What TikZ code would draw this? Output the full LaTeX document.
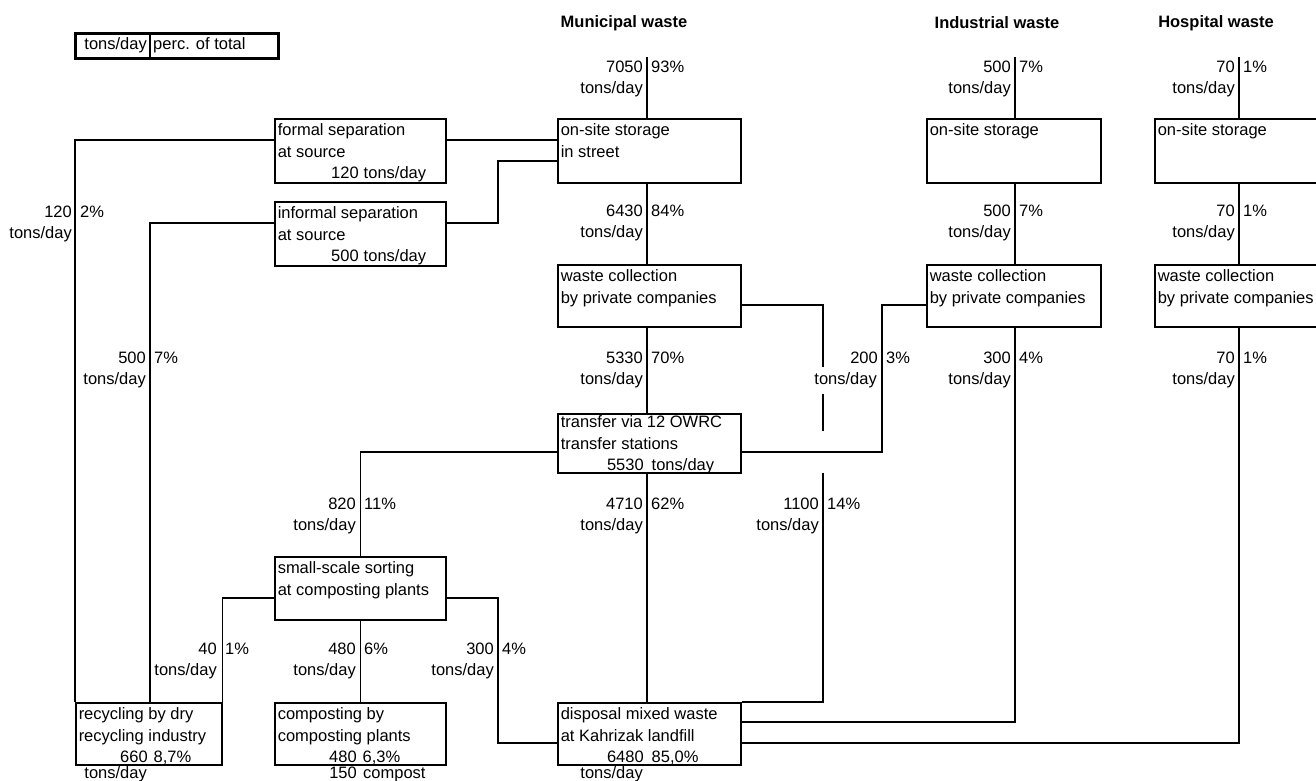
\documentclass[tikz,border=0pt]{standalone}
\usepackage{fontspec}
\setmainfont{Liberation Sans}
\usetikzlibrary{calc}

% text block of a process box: lines start at the top, box height fixed
\newcommand\boxtext[4][2pt]{\parbox[c][#3pt][t]{\dimexpr#2pt-6pt\relax}{\raggedright\vspace*{#1}\strut#4}}
% amount line inside a box: right-aligned number, then its unit
\newcommand\numline[4]{\makebox[#1pt][r]{#2}\hspace{#3pt}#4}
% flow label beside a vertical connector: amount | percentage / tons/day
\newcommand\flowlab[6][]{%
  \node[lab,anchor=mid east] (#2-n) at ({#3-4},{#4+2}) {#5};
  \node[lab,anchor=mid west] (#2-p) at ({#3+4},{#4+2}) {#6};
  \node[lab,anchor=mid east,#1] (#2-t) at ({#3-4},{#4+23}) {tons/day};}

\begin{document}
\begin{tikzpicture}[x=1pt,y=-1pt,
  every node/.style={font=\fontsize{16.5}{21.5}\selectfont},
  lab/.style={inner sep=0pt},
  head/.style={inner sep=0pt,font=\fontsize{16.5}{21.5}\selectfont\bfseries},
  box/.style={draw,line width=1.5pt,inner xsep=3pt,inner ysep=0pt,anchor=north west},
  flow/.style={line width=1.5pt},
  mask/.style={fill=white,inner ysep=6pt,inner xsep=1pt}]
\useasboundingbox (0,0) rectangle (1316,780);

% ---- legend ----
\node[draw,line width=3pt,minimum width=203pt,minimum height=25pt,inner sep=0pt,anchor=north west] (legend) at (74,32) {};
\node[lab,anchor=mid east] (leg-u) at (147,47) {tons/day};
\node[lab,anchor=mid west] (leg-p) at (153,47) {perc. of total};
\coordinate (legdiv) at (150,32);
\draw[flow] (legdiv) -- (legdiv |- legend.south);

% ---- column headings ----
\node[head] (h-mun) at (624,23) {Municipal waste};
\node[head] (h-ind) at (997,23) {Industrial waste};
\node[head] (h-hos) at (1216,23) {Hospital waste};

% ---- process boxes ----
\node[box,minimum width=171pt,minimum height=64pt] (formal) at (274,118)
  {\boxtext{171}{64}{formal separation\\at source\\\numline{81}{120}{5}{tons/day}}};
\node[box,minimum width=171pt,minimum height=64pt] (informal) at (274,201)
  {\boxtext{171}{64}{informal separation\\at source\\\numline{81}{500}{5}{tons/day}}};
\node[box,minimum width=183pt,minimum height=64pt] (ons) at (557,118)
  {\boxtext{183}{64}{on-site storage\\in street}};
\node[box,minimum width=183pt,minimum height=62pt] (wc) at (557,264)
  {\boxtext{183}{62}{waste collection\\by private companies}};
\node[box,minimum width=183pt,minimum height=59pt] (tr) at (557,413)
  {\boxtext[-1pt]{183}{59}{transfer via 12 OWRC\\transfer stations\\\numline{83}{5530}{8}{tons/day}}};
\node[box,minimum width=171pt,minimum height=63pt] (small) at (274,556)
  {\boxtext{171}{63}{small-scale sorting\\at composting plants}};
\node[box,minimum width=146pt,minimum height=62pt] (recyc) at (75,702)
  {\boxtext{146}{62}{recycling by dry\\recycling industry\\\numline{69}{660}{6}{8,7\%}}};
\node[box,minimum width=171pt,minimum height=62pt] (comp) at (274,702)
  {\boxtext{171}{62}{composting by\\composting plants\\\numline{79}{480}{6}{6,3\%}}};
\node[box,minimum width=183pt,minimum height=62pt] (disp) at (557,702)
  {\boxtext{183}{62}{disposal mixed waste\\at Kahrizak landfill\\\numline{83}{6480}{8}{85,0\%}}};
\node[box,minimum width=174pt,minimum height=64pt] (ios) at (926,118)
  {\boxtext{174}{64}{on-site storage}};
\node[box,minimum width=174pt,minimum height=62pt] (iwc) at (926,264)
  {\boxtext{174}{62}{waste collection\\by private companies}};
\node[box,minimum width=180pt,minimum height=64pt] (hos) at (1154,118)
  {\boxtext{180}{64}{on-site storage}};
\node[box,minimum width=180pt,minimum height=62pt] (hwc) at (1154,264)
  {\boxtext{180}{62}{waste collection\\by private companies}};

% texts under the bottom boxes
\node[lab,anchor=mid east] (recyc-u) at (147,776) {tons/day};
\node[lab,anchor=mid east] (comp-n) at (357,776) {150};
\node[lab,anchor=mid west] (comp-u) at (363,776) {compost};
\node[lab,anchor=mid east] (disp-u) at (643,776) {tons/day};

% ---- connector columns and bends ----
\coordinate (munin) at (647,57);
\coordinate (indin) at (1015,57);
\coordinate (hosin) at (1239,57);
\coordinate (jog1) at (498,161);
\coordinate (jog2) at (498,743);
\coordinate (gtop) at (823,431);
\coordinate (gbot) at (823,473);
\coordinate (tjog) at (882,452);

% ---- municipal main flow ----
\draw[flow] (munin) -- (munin |- ons.north);
\draw[flow] (ons.south -| munin) -- (wc.north -| munin);
\draw[flow] (wc.south -| munin) -- (tr.north -| munin);
\draw[flow] (tr.south -| munin) -- (disp.north -| munin);

% ---- separation at source ----
\draw[flow] ([yshift=-22pt]formal.north west) -| (recyc.north west);
\draw[flow] ([yshift=-22pt]informal.north west) -| (recyc.north -| legdiv);
\draw[flow] ([yshift=-22pt]formal.north east) -- ([yshift=-22pt]ons.north west);
\draw[flow] ([yshift=-22pt]informal.north east) -| (jog1) -- ([yshift=-43pt]ons.north west);

% ---- collection side branch ----
\draw[flow] ([yshift=-41pt]wc.north east) -| (gtop);
\draw[flow] (gbot) |- (disp.north east);
\draw[flow] ([yshift=-41pt]iwc.north west) -| (tjog) -- ([yshift=-39pt]tr.north east);

% ---- transfer to sorting ----
\draw[flow] ([yshift=-39pt]tr.north west) -| (small.north);
\draw[flow] (small.south) -- (comp.north);
\draw[flow] ([yshift=-42pt]small.north west) -| (recyc.north east);
\draw[flow] ([yshift=-42pt]small.north east) -| (jog2) -- ([yshift=-41pt]disp.north west);

% ---- industrial waste ----
\draw[flow] (indin) -- (indin |- ios.north);
\draw[flow] (ios.south -| indin) -- (iwc.north -| indin);
\draw[flow] (iwc.south -| indin) |- ([yshift=-20pt]disp.north east);

% ---- hospital waste ----
\draw[flow] (hosin) -- (hosin |- hos.north);
\draw[flow] (hos.south -| hosin) -- (hwc.north -| hosin);
\draw[flow] (hwc.south -| hosin) |- ([yshift=-41pt]disp.north east);

% ---- flow labels ----
\flowlab{f7050}{647}{68}{7050}{93\%}
\flowlab{f6430}{647}{212}{6430}{84\%}
\flowlab{f5330}{647}{359}{5330}{70\%}
\flowlab{f4710}{647}{505}{4710}{62\%}
\flowlab{f1100}{823}{505}{1100}{14\%}
\flowlab[mask]{f200}{882}{359}{200}{3\%}
\flowlab{f120}{76}{213}{120}{2\%}
\flowlab{f500}{150}{359}{500}{7\%}
\flowlab{f820}{360}{505}{820}{11\%}
\flowlab{f40}{221}{650}{40}{1\%}
\flowlab{f480}{360}{650}{480}{6\%}
\flowlab{f300}{498}{650}{300}{4\%}
\flowlab{i500a}{1015}{68}{500}{7\%}
\flowlab{i500b}{1015}{212}{500}{7\%}
\flowlab{i300}{1015}{359}{300}{4\%}
\flowlab{h70a}{1239}{68}{70}{1\%}
\flowlab{h70b}{1239}{212}{70}{1\%}
\flowlab{h70c}{1239}{359}{70}{1\%}
\end{tikzpicture}
\end{document}
